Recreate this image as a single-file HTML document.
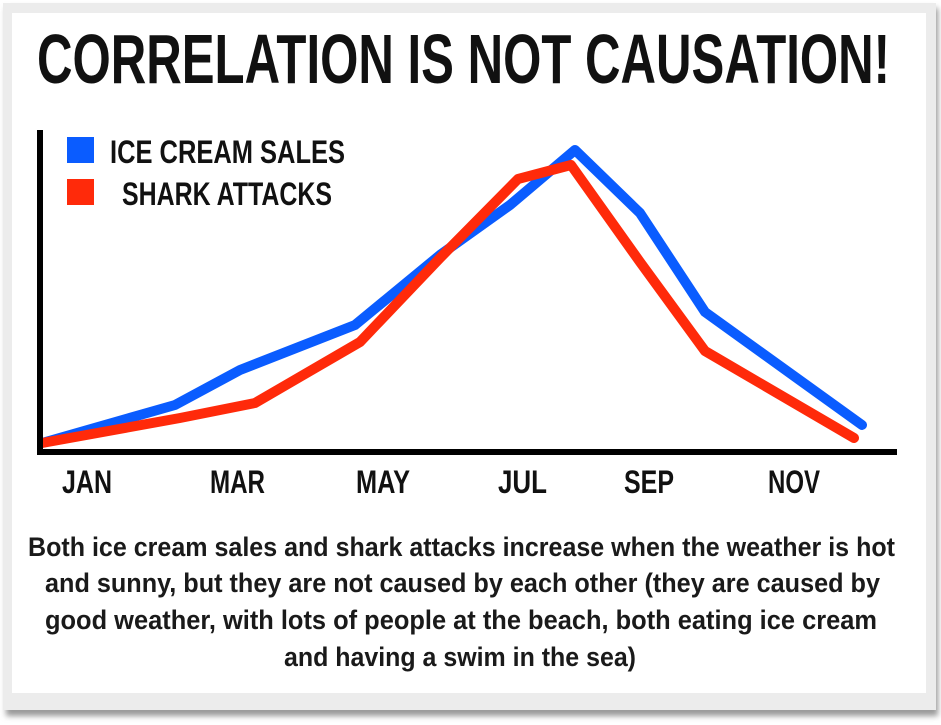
<!DOCTYPE html>
<html><head><meta charset="utf-8"><style>
html,body{margin:0;padding:0;background:#fff;width:941px;height:725px;overflow:hidden}
</style></head><body>
<svg width="941" height="725" viewBox="0 0 941 725" xmlns="http://www.w3.org/2000/svg">
<defs><filter id="sh" x="-5%" y="-5%" width="110%" height="110%"><feGaussianBlur stdDeviation="3"/></filter></defs>
<rect x="6" y="8" width="932" height="708" fill="#999" filter="url(#sh)"/>
<rect x="3" y="3" width="933" height="707" fill="#ececec"/>
<rect x="12" y="13" width="914" height="680" fill="#fff"/>
<g font-family="'Liberation Sans Narrow','Liberation Sans',sans-serif" font-weight="bold" fill="#111">
<text x="37" y="83" font-size="70" textLength="853" lengthAdjust="spacingAndGlyphs">CORRELATION IS NOT CAUSATION!</text>
<text x="110" y="163" font-size="32" textLength="235" lengthAdjust="spacingAndGlyphs">ICE CREAM SALES</text>
<text x="122" y="205" font-size="32" textLength="210" lengthAdjust="spacingAndGlyphs">SHARK ATTACKS</text>
<g font-size="32">
<text x="62" y="493" textLength="50" lengthAdjust="spacingAndGlyphs">JAN</text>
<text x="210" y="493" textLength="55" lengthAdjust="spacingAndGlyphs">MAR</text>
<text x="356" y="493" textLength="54" lengthAdjust="spacingAndGlyphs">MAY</text>
<text x="498" y="493" textLength="49" lengthAdjust="spacingAndGlyphs">JUL</text>
<text x="624" y="493" textLength="50" lengthAdjust="spacingAndGlyphs">SEP</text>
<text x="768" y="493" textLength="52" lengthAdjust="spacingAndGlyphs">NOV</text>
</g>
</g>
<rect x="67" y="137" width="27" height="26" fill="#0a5cff"/>
<rect x="67" y="179" width="27" height="26" fill="#ff2a0a"/>
<polyline points="42,443 175,405 240,370 355,325 440,255 510,205 575,150 640,213 705,312 862,425" fill="none" stroke="#0a5cff" stroke-width="10" stroke-linejoin="round" stroke-linecap="round"/>
<polyline points="42,443 180,418 255,403 360,342 440,258 518,179 571,165 640,262 705,351 854,438" fill="none" stroke="#ff2a0a" stroke-width="10" stroke-linejoin="round" stroke-linecap="round"/>
<path d="M40,130 V452 H897" fill="none" stroke="#000" stroke-width="6"/>
<g font-family="'Liberation Sans Narrow','Liberation Sans',sans-serif" font-weight="bold" fill="#1a1a1a" font-size="27">
<text x="28" y="556" textLength="867" lengthAdjust="spacingAndGlyphs">Both ice cream sales and shark attacks increase when the weather is hot</text>
<text x="45" y="592" textLength="835" lengthAdjust="spacingAndGlyphs">and sunny, but they are not caused by each other (they are caused by</text>
<text x="45" y="629" textLength="832" lengthAdjust="spacingAndGlyphs">good weather, with lots of people at the beach, both eating ice cream</text>
<text x="284" y="666" textLength="352" lengthAdjust="spacingAndGlyphs">and having a swim in the sea)</text>
</g>
</svg>
</body></html>
